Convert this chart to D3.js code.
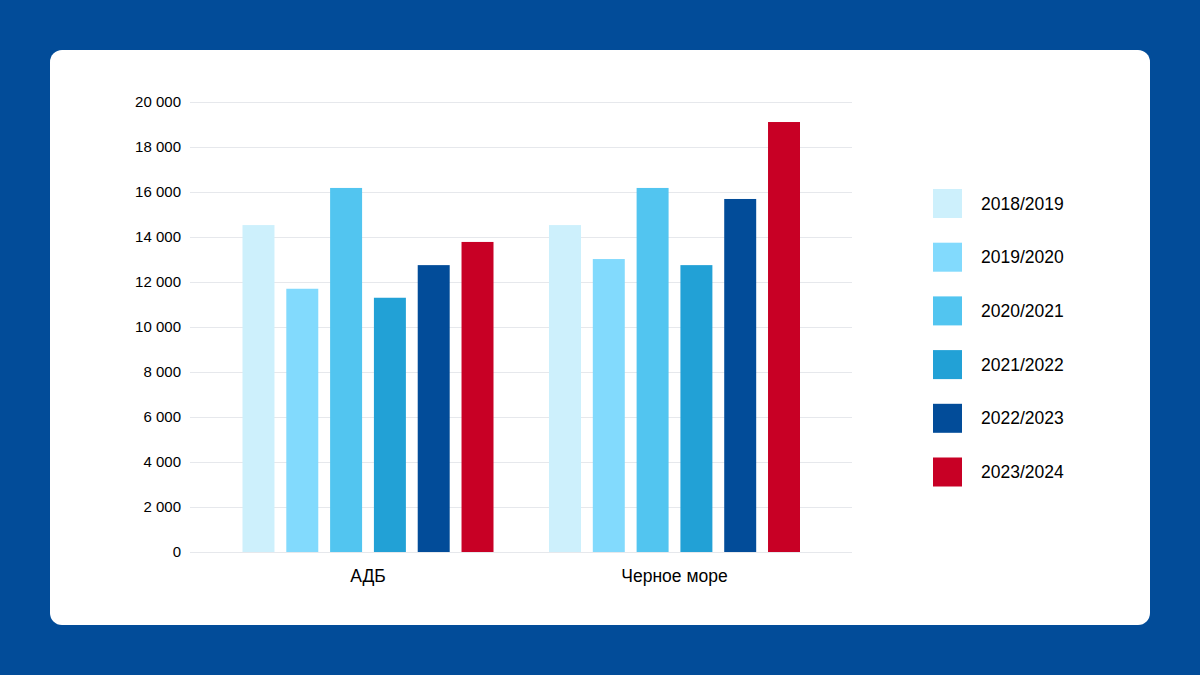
<!DOCTYPE html>
<html>
<head>
<meta charset="utf-8">
<script src="https://cdn.jsdelivr.net/npm/d3@7"></script>
<style>
  html, body { margin: 0; padding: 0; background: #024c99; }
  svg { display: block; font-family: "Liberation Sans", Arial, sans-serif; }
</style>
</head>
<body>
<div id="chart"></div>
<script>
// данные
const categories = ['АДБ', 'Черное море']
const seasons = ['2018/2019', '2019/2020', '2020/2021', '2021/2022', '2022/2023', '2023/2024']
const valuesADB = [14530, 11700, 16180, 11300, 12750, 13780]
const valuesBlackSea = [14530, 13020, 16180, 12750, 15690, 19110]
const yTicks = [0, 2000, 4000, 6000, 8000, 10000, 12000, 14000, 16000, 18000, 20000]
const colors = ['#cdf0fc', '#82dafd', '#52c5f0', '#22a1d6', '#024c99', '#c80025']

const width = 1200
const height = 675

const svg = d3.select('#chart')
  .append('svg')
  .attr('width', width)
  .attr('height', height)

// фон и белая карточка
svg.append('rect')
  .attr('width', width)
  .attr('height', height)
  .attr('fill', '#024c99')
svg.append('rect')
  .attr('x', 50)
  .attr('y', 50)
  .attr('width', 1100)
  .attr('height', 575)
  .attr('rx', 12)
  .attr('fill', '#fff')

const rows = categories.map((c, i) => ({
  name: c,
  values: [valuesADB, valuesBlackSea][i]
}))

const y = d3.scaleLinear()
  .domain([0, 20000])
  .range([552, 102])

const x0 = d3.scaleBand()
  .domain(categories)
  .range([214.75, 827.75])

const groupWidth = 251
const x1 = d3.scaleBand()
  .domain(seasons)
  .range([0, groupWidth])
  .paddingInner(0.27)

const color = d3.scaleOrdinal()
  .domain(seasons)
  .range(colors)

// сетка
const fmt = v => d3.format(',')(v).replace(/,/g, ' ')
const yAxis = svg.append('g')
  .attr('transform', 'translate(190,0)')
  .call(d3.axisLeft(y)
    .tickValues(yTicks)
    .tickSize(-662)
    .tickPadding(9)
    .tickFormat(fmt))
yAxis.select('.domain').remove()
yAxis.selectAll('.tick line')
  .attr('stroke', '#e6e8ec')
  .attr('stroke-width', 1)
yAxis.selectAll('.tick text')
  .attr('fill', '#000')
  .attr('font-size', 15)
  .attr('font-family', '"Liberation Sans", Arial, sans-serif')

// столбцы
const groups = svg.append('g')
  .selectAll('g')
  .data(rows)
  .enter()
  .append('g')
  .attr('transform', d => `translate(${x0(d.name) + (x0.bandwidth() - groupWidth) / 2},0)`)

groups.selectAll('rect')
  .data(d => d.values.map((v, i) => ({ key: seasons[i], value: v })))
  .enter()
  .append('rect')
  .attr('x', d => x1(d.key))
  .attr('y', d => y(d.value))
  .attr('width', x1.bandwidth())
  .attr('height', d => y(0) - y(d.value))
  .attr('fill', d => color(d.key))

// подписи категорий
svg.append('g')
  .selectAll('text')
  .data(categories)
  .enter()
  .append('text')
  .attr('x', d => x0(d) + x0.bandwidth() / 2)
  .attr('y', 582)
  .attr('text-anchor', 'middle')
  .attr('font-size', 17.5)
  .attr('fill', '#000')
  .text(d => d)

// легенда
const legend = svg.append('g')
  .selectAll('g')
  .data(seasons)
  .enter()
  .append('g')
  .attr('transform', (d, i) => `translate(933,${189 + i * 53.7})`)

legend.append('rect')
  .attr('width', 29)
  .attr('height', 29)
  .attr('fill', d => color(d))

legend.append('text')
  .attr('x', 48)
  .attr('y', 20.5)
  .attr('font-size', 17.5)
  .attr('fill', '#000')
  .text(d => d)
</script>
</body>
</html>
